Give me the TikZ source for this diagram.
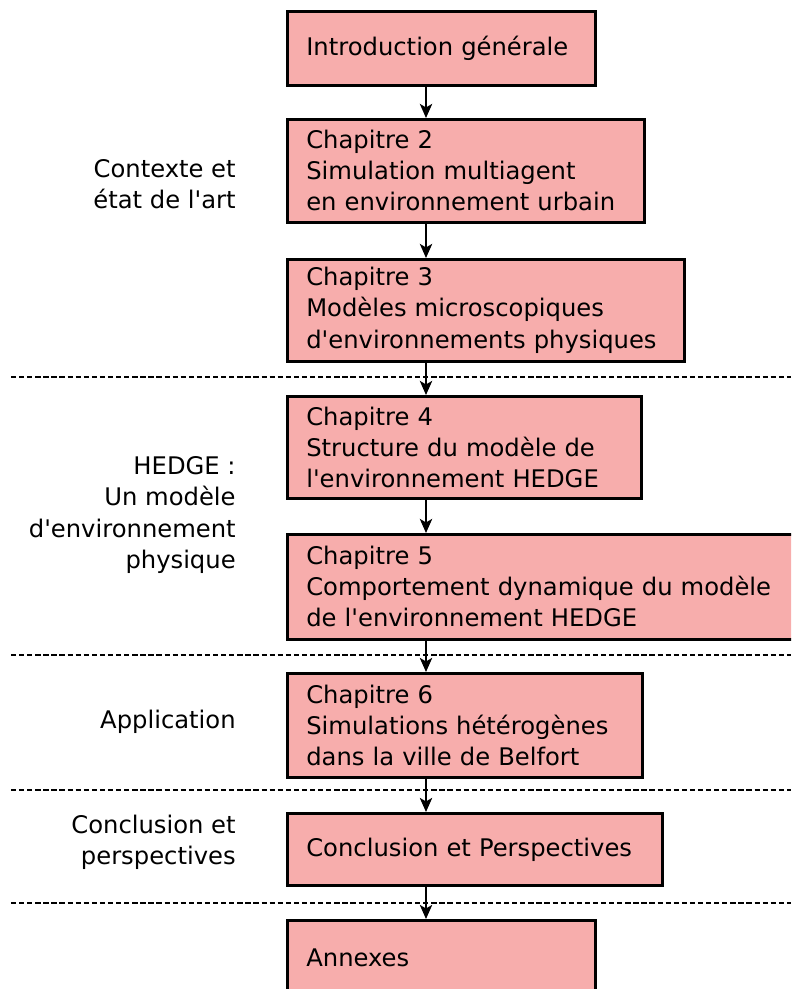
\documentclass[tikz,border=0pt]{standalone}
\usepackage{fontspec}
\setmainfont{DejaVu Sans}[Ligatures=TeXOff]
\usepackage{tikz}
\usetikzlibrary{arrows.meta,calc}

\definecolor{chapfill}{HTML}{F7ADAC}

\tikzset{
	chapbox/.style={draw, line width=1.5pt, fill=chapfill, anchor=north west,
		align=left, inner xsep=0.38cm, inner ysep=0pt,
		font=\fontsize{13.8}{17.7}\selectfont},
	partlabel/.style={anchor=east, align=right, inner sep=0pt,
		font=\fontsize{13.8}{17.7}\selectfont},
	flow/.style={-{Stealth[length=8pt,width=7pt,inset=2pt]}, line width=1.2pt},
	sep/.style={line width=1.3pt, dash pattern=on 3pt off 1.6pt}
}

\begin{document}
\begin{tikzpicture}[x=0.02cm,y=-0.02cm]
		\clip (0,0) rectangle (791,989);
		\coordinate (axis) at (426,0);
		% chapters
		\node[chapbox, text width=5.4cm, minimum height=1.48cm] (intro) at (286,10) {Introduction générale};
		\node[chapbox, text width=6.38cm, minimum height=2.06cm] (ch2) at (286,118) {Chapitre 2\\Simulation multiagent\\en environnement urbain};
		\node[chapbox, text width=7.18cm, minimum height=2.04cm] (ch3) at (286,258) {Chapitre 3\\Modèles microscopiques\\d'environnements physiques};
		\node[chapbox, text width=6.32cm, minimum height=2.04cm] (ch4) at (286,395) {Chapitre 4\\Structure du modèle de\\l'environnement HEDGE};
		\node[chapbox, text width=9.64cm, minimum height=2.1cm] (ch5) at (286,533) {Chapitre 5\\Comportement dynamique du modèle\\de l'environnement HEDGE};
		\node[chapbox, text width=6.34cm, minimum height=2.08cm] (ch6) at (286,672) {Chapitre 6\\Simulations hétérogènes\\dans la ville de Belfort};
		\node[chapbox, text width=6.74cm, minimum height=1.44cm] (concl) at (286,812) {Conclusion et Perspectives};
		\node[chapbox, text width=5.4cm, minimum height=1.5cm] (annex) at (286,919) {Annexes};
		% parts
		\node[partlabel] (p1) at (236,184) {Contexte et\\état de l'art};
		\node[partlabel] (p2) at (236,515) {HEDGE :\\Un modèle\\d'environnement\\physique};
		\node[partlabel] (p3) at (236,722) {Application};
		\node[partlabel] (p4) at (236,842) {Conclusion et\\perspectives};
		% separators
		\foreach \y in {377,655,790,903}
			\draw[sep] (11,\y) -- (791,\y);
		% arrows
		\draw[flow] (intro.south -| axis) -- (ch2.north -| axis);
		\draw[flow] (ch2.south -| axis) -- (ch3.north -| axis);
		\draw[flow] (ch3.south -| axis) -- (ch4.north -| axis);
		\draw[flow] (ch4.south -| axis) -- (ch5.north -| axis);
		\draw[flow] (ch5.south -| axis) -- (ch6.north -| axis);
		\draw[flow] (ch6.south -| axis) -- (concl.north -| axis);
		\draw[flow] (concl.south -| axis) -- (annex.north -| axis);
	\end{tikzpicture}
\end{document}
